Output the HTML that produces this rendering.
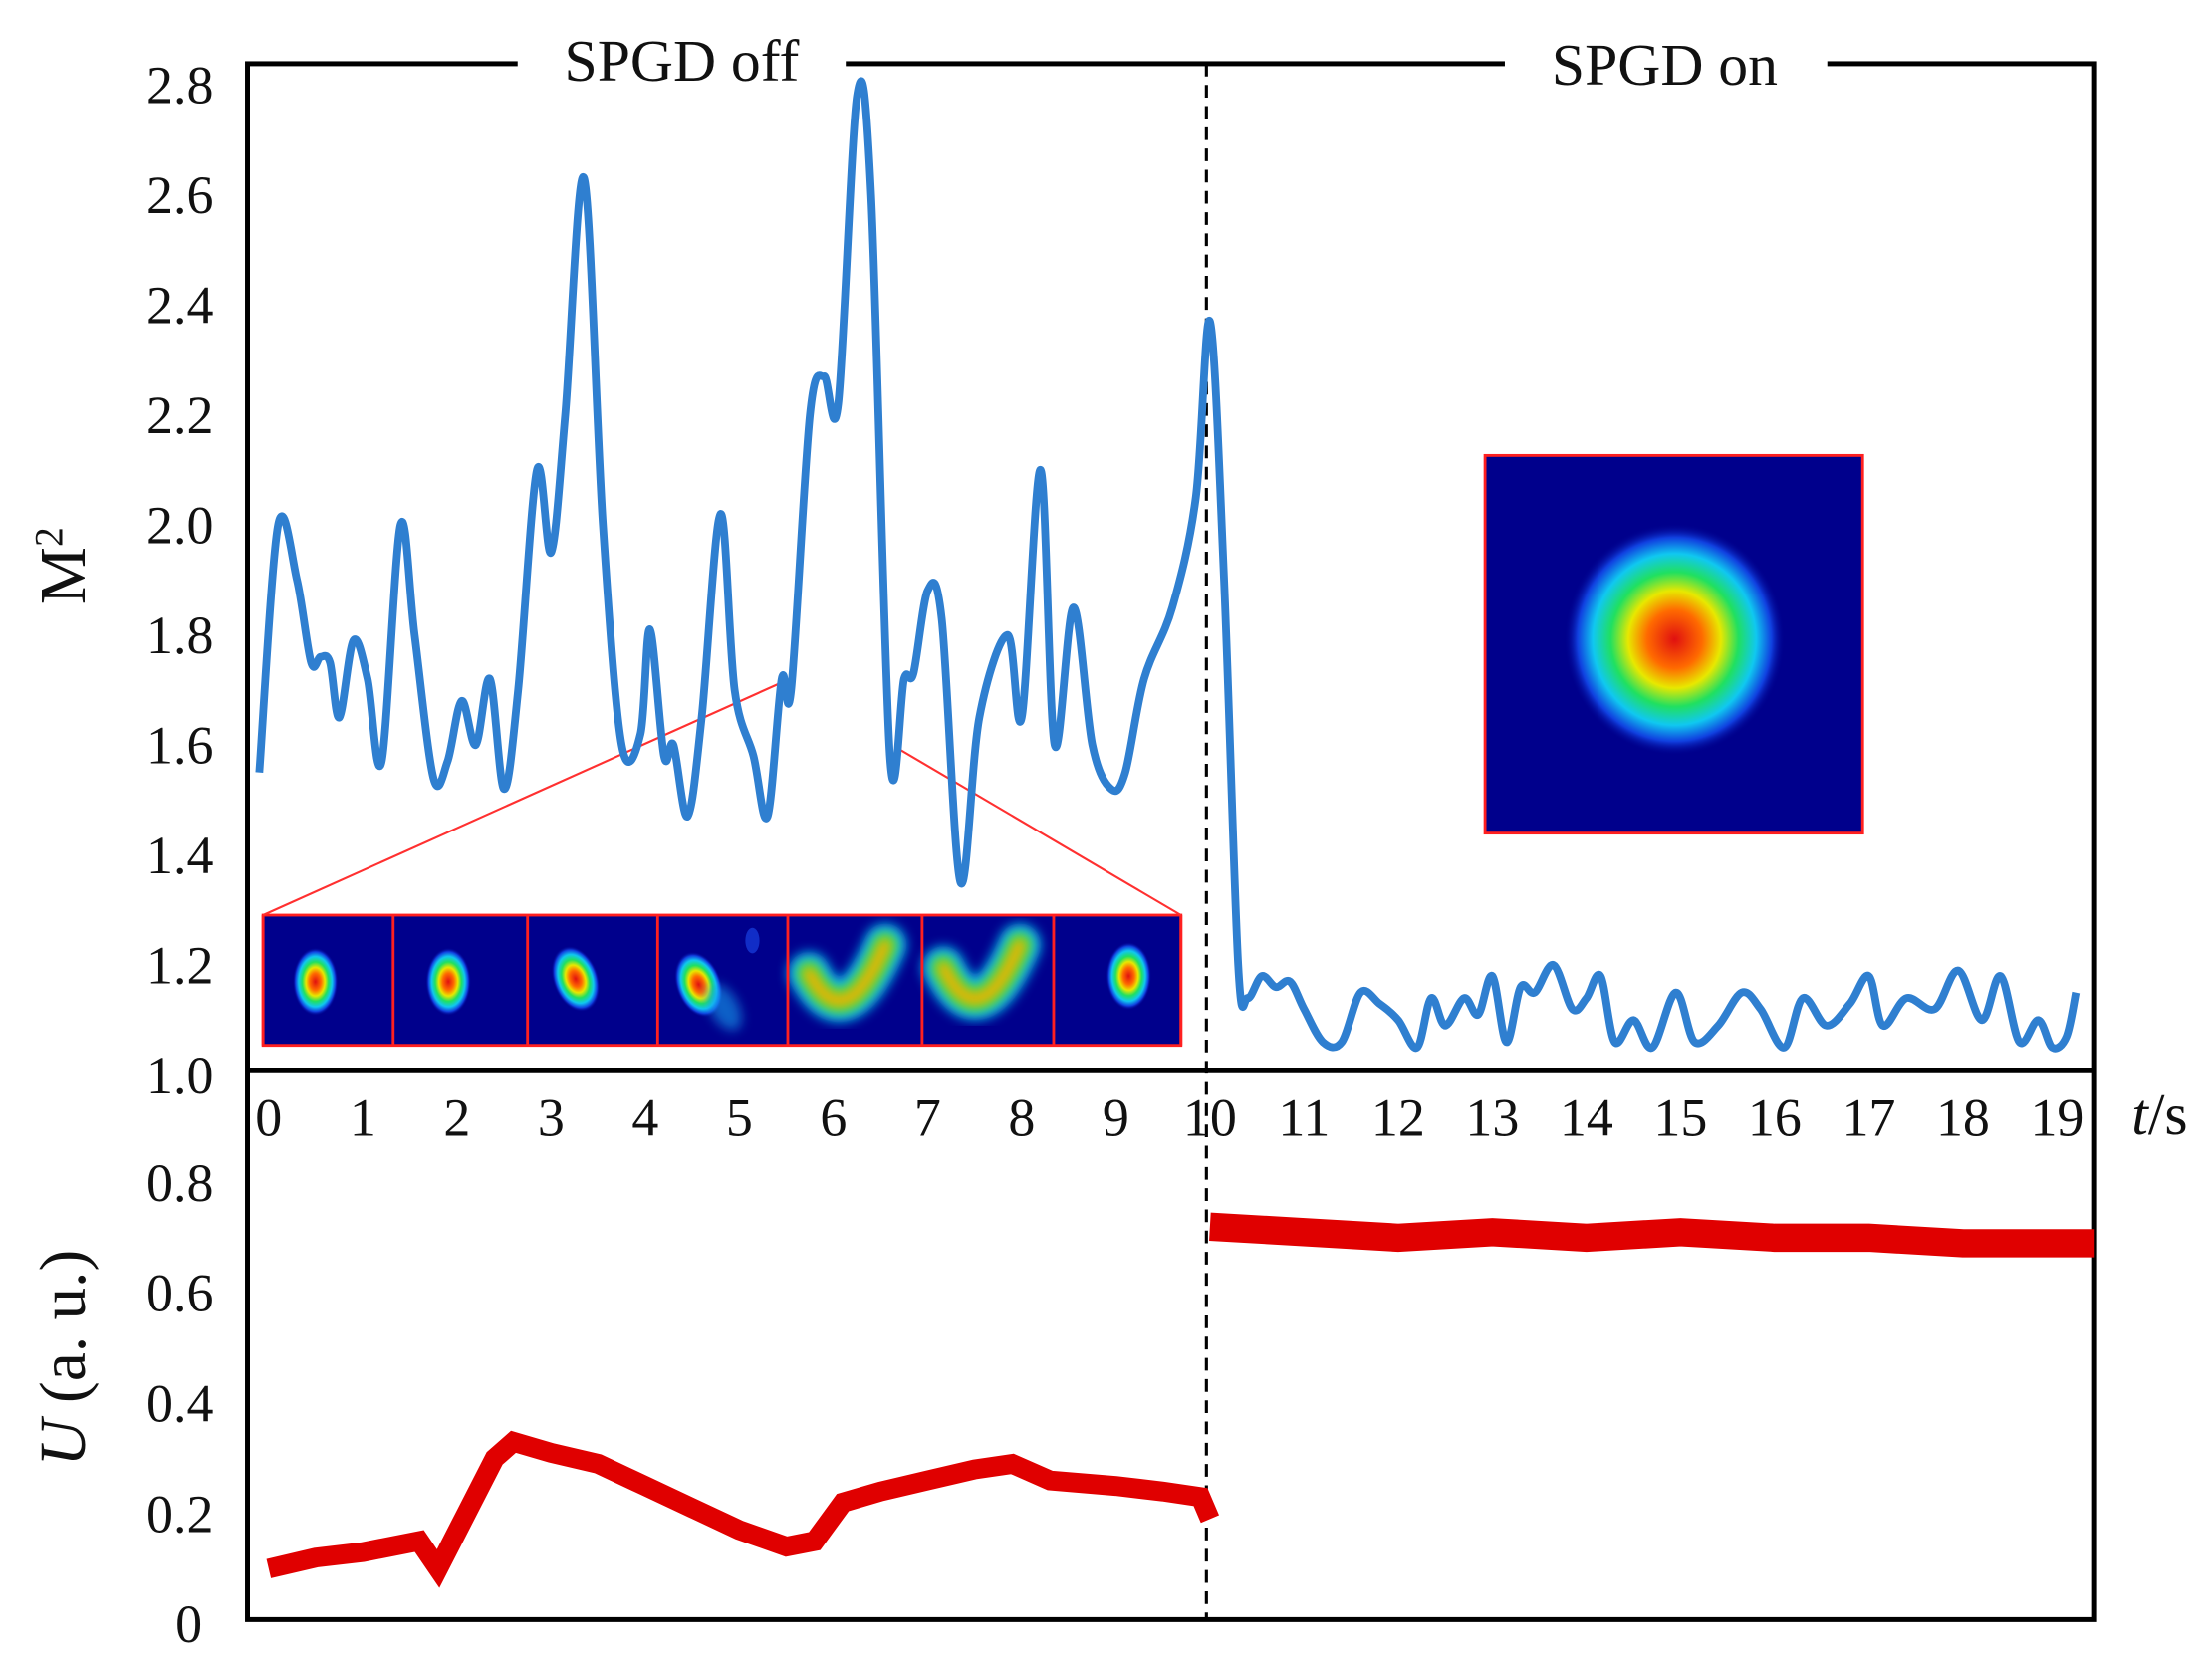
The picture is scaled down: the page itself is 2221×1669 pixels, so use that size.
<!DOCTYPE html>
<html><head><meta charset="utf-8"><style>
html,body{margin:0;padding:0;background:#fff;}
svg{display:block;}
text{font-family:"Liberation Serif",serif;fill:#111;}
</style></head><body>
<svg id="chart" width="2221" height="1669" viewBox="0 0 1564 1175" preserveAspectRatio="none" xmlns="http://www.w3.org/2000/svg">
<defs>
<radialGradient id="beam" cx="50%" cy="50%" r="50%">
<stop offset="0" stop-color="#e01010"/><stop offset="0.25" stop-color="#ff6a00"/><stop offset="0.42" stop-color="#e8e800"/><stop offset="0.58" stop-color="#20e060"/><stop offset="0.74" stop-color="#10c8f0"/><stop offset="0.88" stop-color="#1040e0"/><stop offset="1" stop-color="#00008c" stop-opacity="0"/>
</radialGradient>
<filter id="blur" x="-50%" y="-50%" width="200%" height="200%"><feGaussianBlur stdDeviation="4"/></filter>
<clipPath id="stripclip"><rect x="186" y="647" width="649" height="92"/></clipPath>
</defs>
<g id="insets"></g>
<g id="axes"></g>
<g id="plot"></g>
</svg>
<script>
// data
const mT=[-0.1,0.1,0.3,0.45,0.55,0.65,0.75,0.9,1.05,1.2,1.4,1.55,1.75,1.9,2.05,2.2,2.35,2.5,2.65,2.85,3.0,3.15,3.35,3.55,3.75,3.95,4.05,4.2,4.3,4.45,4.6,4.8,4.95,5.15,5.3,5.45,5.55,5.75,5.9,6.05,6.25,6.4,6.6,6.75,6.85,7.0,7.15,7.35,7.55,7.85,8.0,8.2,8.35,8.55,8.75,8.95,9.1,9.3,9.6,9.85,10.0,10.15,10.3,10.4,10.55,10.7,10.85,11.0,11.2,11.4,11.6,11.8,12.0,12.2,12.35,12.5,12.7,12.85,13.0,13.15,13.3,13.45,13.65,13.85,14.0,14.15,14.3,14.5,14.7,14.95,15.15,15.4,15.65,15.85,16.1,16.3,16.55,16.8,17.0,17.15,17.4,17.7,17.95,18.2,18.4,18.6,18.8,18.95,19.1,19.2];
const mV=[1.55,2.0,1.9,1.75,1.76,1.75,1.65,1.79,1.72,1.57,2.0,1.8,1.54,1.57,1.68,1.6,1.72,1.52,1.7,2.1,1.95,2.2,2.63,2.0,1.6,1.62,1.81,1.58,1.6,1.47,1.65,2.02,1.7,1.58,1.47,1.72,1.7,2.2,2.27,2.22,2.78,2.6,1.58,1.72,1.73,1.88,1.83,1.35,1.65,1.8,1.65,2.1,1.6,1.85,1.6,1.52,1.55,1.72,1.85,2.05,2.37,1.9,1.2,1.14,1.18,1.16,1.17,1.12,1.06,1.06,1.15,1.13,1.1,1.05,1.14,1.09,1.14,1.11,1.18,1.06,1.16,1.15,1.2,1.12,1.14,1.18,1.06,1.1,1.05,1.15,1.06,1.09,1.15,1.12,1.05,1.14,1.09,1.13,1.18,1.09,1.14,1.12,1.19,1.1,1.18,1.06,1.1,1.05,1.07,1.15];
const uOffT=[0,0.5,1.0,1.6,1.8,2.1,2.4,2.6,3.0,3.5,4.0,4.5,5.0,5.5,5.8,6.1,6.5,7.0,7.5,7.9,8.3,9.0,9.5,9.9,10.0];
const uOffV=[0.1,0.12,0.13,0.15,0.1,0.2,0.3,0.33,0.31,0.29,0.25,0.21,0.17,0.14,0.15,0.22,0.24,0.26,0.28,0.29,0.26,0.25,0.24,0.23,0.19];
const uOnT=[10.0,11,12,13,14,15,16,17,18,19,19.4];
const uOnV=[0.72,0.71,0.7,0.71,0.7,0.71,0.7,0.7,0.69,0.69,0.69];
const xTicks=[0,1,2,3,4,5,6,7,8,9,10,11,12,13,14,15,16,17,18,19];
const mTicks=[1.0,1.2,1.4,1.6,1.8,2.0,2.2,2.4,2.6,2.8];
const uTicks=[0,0.2,0.4,0.6,0.8];

const NS="http://www.w3.org/2000/svg";
const X=t=>190+t*66.55;
const YM=v=>760-(v-1.0)*388.9;
const YU=v=>1148-v*390;
function mk(tag,attrs,parent){const e=document.createElementNS(NS,tag);for(const k in attrs)e.setAttribute(k,attrs[k]);parent.appendChild(e);return e;}
const axes=document.getElementById('axes'),plot=document.getElementById('plot'),ins=document.getElementById('insets');

// insets
let bg=mk('rect',{x:1050,y:322,width:267,height:267,fill:'#00008c',stroke:'#ff2020','stroke-width':2},ins);

mk('ellipse',{cx:1184,cy:452,rx:78,ry:82,fill:'url(#beam)'},ins);
const cells=[186,278,373,465,557,652,745,835];
let strip=mk('rect',{x:186,y:647,width:649,height:92,fill:'#00008c',stroke:'#ff2020','stroke-width':2},ins);

const sg=mk('g',{'clip-path':'url(#stripclip)'},ins);
const spots=[[223,694],[317,694],[407,692],[494,696],[0,0],[0,0],[798,690]];
for(let i=0;i<7;i++){
 if(i<4||i==6){mk('ellipse',{cx:spots[i][0],cy:spots[i][1],rx:16,ry:24,fill:'url(#beam)',transform:i==2||i==3?`rotate(-20 ${spots[i][0]} ${spots[i][1]})`:''},sg);}
}
mk('ellipse',{cx:512,cy:712,rx:10,ry:18,fill:'#18a0f0',opacity:0.6,filter:'url(#blur)',transform:'rotate(-30 512 712)'},sg);
mk('ellipse',{cx:532,cy:665,rx:5,ry:9,fill:'#1840e0',opacity:0.7},sg);
for(const [cx,bend] of [[602,0],[697,1]]){
 const d=`M${cx-30} ${688-bend*4} Q${cx-5} ${735} ${cx+24} ${668}`;
 mk('path',{d:d,fill:'none',stroke:'#10b0f0','stroke-width':30,'stroke-linecap':'round',filter:'url(#blur)'},sg);
 mk('path',{d:d,fill:'none',stroke:'#40e040','stroke-width':18,'stroke-linecap':'round',filter:'url(#blur)'},sg);
 mk('path',{d:d,fill:'none',stroke:'#f0b000','stroke-width':9,'stroke-linecap':'round',filter:'url(#blur)'},sg);
}
for(const c of cells) mk('line',{x1:c,y1:647,x2:c,y2:739,stroke:'#ff2020','stroke-width':2},ins);
mk('line',{x1:186,y1:647,x2:556,y2:481,stroke:'#ff3030','stroke-width':1.5},ins);
mk('line',{x1:835,y1:647,x2:633,y2:528,stroke:'#ff3030','stroke-width':1.5},ins);

// frame
let fr=mk('rect',{x:175,y:45,width:1306,height:1100,fill:'none',stroke:'#000','stroke-width':3.5},axes);

mk('line',{x1:175,y1:757,x2:1481,y2:757,stroke:'#000','stroke-width':3.5},axes);
let dl=mk('line',{x1:853,y1:45,x2:853,y2:1145,stroke:'#000','stroke-width':2.2,'stroke-dasharray':'9 6'},axes);

mk('rect',{x:366,y:20,width:232,height:50,fill:'#fff'},axes);
mk('rect',{x:1064,y:20,width:228,height:50,fill:'#fff'},axes);
let t1=mk('text',{x:482,y:57,'font-size':42,'text-anchor':'middle'},axes);t1.textContent='SPGD off';

let t2=mk('text',{x:1177,y:60,'font-size':42,'text-anchor':'middle'},axes);t2.textContent='SPGD on';

for(const t of xTicks){let e=mk('text',{x:X(t),y:803,'font-size':38,'text-anchor':'middle'},axes);e.textContent=t;
 }
for(const v of mTicks){let e=mk('text',{x:151,y:YM(v)+13,'font-size':38,'text-anchor':'end'},axes);e.textContent=v.toFixed(1);
 }
for(const v of uTicks){let e=mk('text',{x:v==0?143:151,y:YU(v)+13,'font-size':38,'text-anchor':'end'},axes);e.textContent=v==0?'0':v.toFixed(1);
 }
let xt=mk('text',{x:1527,y:802,'font-size':42,'text-anchor':'middle'},axes);xt.innerHTML='<tspan font-style="italic">t</tspan>/s';

let ym=mk('text',{x:0,y:0,'font-size':46,'text-anchor':'middle',transform:'translate(60 400) rotate(-90)'},axes);ym.innerHTML='M<tspan font-size="28" dy="-16">2</tspan>';

let yu=mk('text',{x:0,y:0,'font-size':46,'text-anchor':'middle',transform:'translate(60 960) rotate(-90)'},axes);yu.innerHTML='<tspan font-style="italic">U</tspan> (a. u.)';


function smooth(pts){let d=`M${pts[0][0]} ${pts[0][1]}`;for(let i=0;i<pts.length-1;i++){const p0=pts[Math.max(0,i-1)],p1=pts[i],p2=pts[i+1],p3=pts[Math.min(pts.length-1,i+2)];
 d+=` C${p1[0]+(p2[0]-p0[0])/6} ${p1[1]+(p2[1]-p0[1])/6} ${p2[0]-(p3[0]-p1[0])/6} ${p2[1]-(p3[1]-p1[1])/6} ${p2[0]} ${p2[1]}`;}return d;}
let mp=mk('path',{d:smooth(mT.map((t,i)=>[X(t),YM(mV[i])])),fill:'none',stroke:'#2f7fd0','stroke-width':5.5,'stroke-linejoin':'round'},plot);

let u1=mk('path',{d:'M'+uOffT.map((t,i)=>X(t)+' '+YU(uOffV[i])).join(' L'),fill:'none',stroke:'#e00000','stroke-width':14},plot);

let u2=mk('path',{d:'M'+uOnT.map((t,i)=>X(t)+' '+YU(uOnV[i])).join(' L'),fill:'none',stroke:'#e00000','stroke-width':20},plot);

</script>
</body></html>
